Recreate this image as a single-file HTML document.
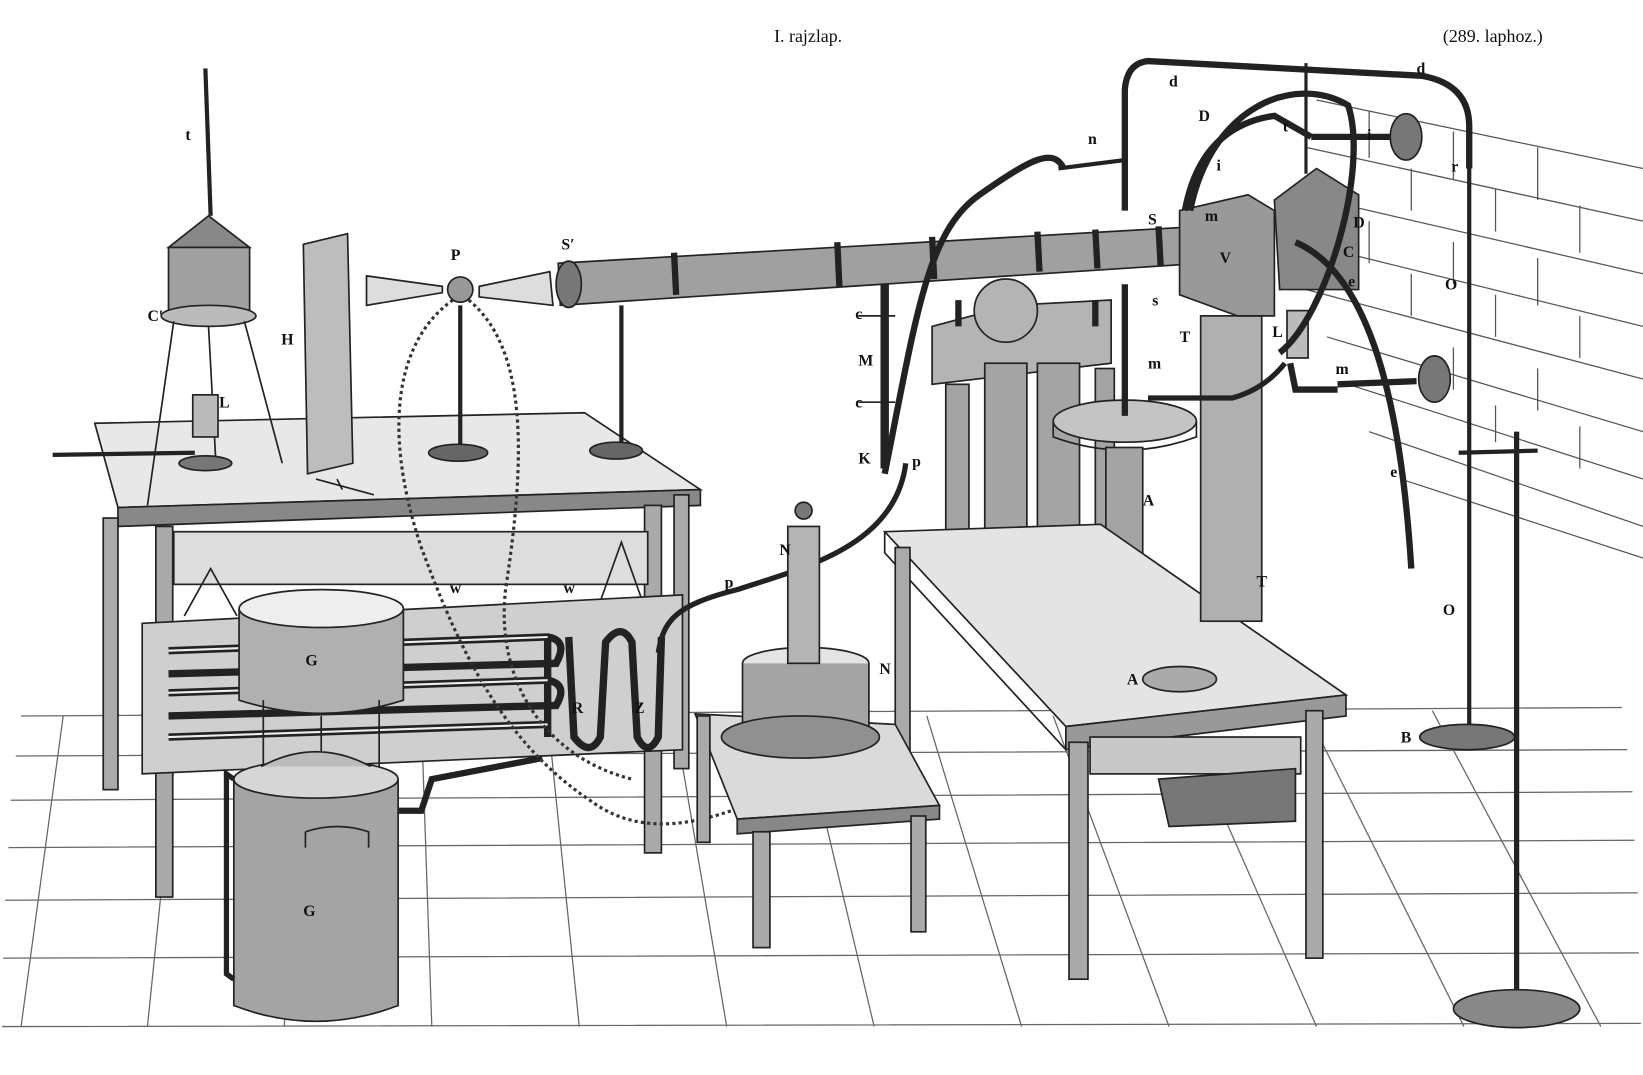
<!DOCTYPE html>
<html><head><meta charset="utf-8"><style>
html,body{margin:0;padding:0;background:#fff;width:1643px;height:1075px;overflow:hidden}
svg{display:block}
text{font-family:"Liberation Serif",serif;fill:#111}
.l{font-size:15px;font-weight:bold}
</style></head><body>
<svg width="1643" height="1075" viewBox="0 0 1560 1021" preserveAspectRatio="none" xmlns="http://www.w3.org/2000/svg">
<g fill="none" stroke="#222" stroke-width="1.6">
<g stroke="#666" stroke-width="1.2">
<path d="M20 680 L1540 672 M15 718 L1545 712 M10 760 L1550 752 M8 805 L1552 798 M5 855 L1555 848 M3 910 L1556 905 M2 975 L1558 972"/>
<path d="M60 680 L20 975 M170 680 L140 975 M280 680 L270 975 M400 680 L410 975 M520 680 L550 975 M640 680 L690 975 M760 680 L830 975 M880 680 L970 975 M1000 680 L1110 975 M1120 680 L1250 975 M1240 675 L1390 975 M1360 675 L1520 975"/>
</g>
<g stroke="#555" stroke-width="1.2">
<path d="M1250 95 L1560 160 M1240 140 L1560 210 M1235 185 L1560 260 M1235 230 L1560 310 M1240 275 L1560 360 M1260 320 L1560 410 M1280 365 L1560 455 M1300 410 L1560 500 M1330 455 L1560 530"/>
<path d="M1300 105 L1300 150 M1380 125 L1380 170 M1460 140 L1460 190 M1340 160 L1340 200 M1420 180 L1420 220 M1500 195 L1500 240 M1300 210 L1300 250 M1380 230 L1380 270 M1460 245 L1460 290 M1340 260 L1340 300 M1420 280 L1420 320 M1500 300 L1500 340 M1380 330 L1380 370 M1460 350 L1460 390 M1420 385 L1420 420 M1500 405 L1500 445"/>
</g>
<path d="M90 402 L555 392 L665 465 L112 482 Z" fill="#e8e8e8"/>
<path d="M112 482 L665 465 L665 480 L112 500 Z" fill="#888"/>
<rect x="98" y="492" width="14" height="258" fill="#aaa"/>
<rect x="148" y="500" width="16" height="352" fill="#aaa"/>
<rect x="612" y="480" width="16" height="330" fill="#aaa"/>
<rect x="640" y="470" width="14" height="260" fill="#aaa"/>
<rect x="165" y="505" width="450" height="50" fill="#ddd"/>
<path d="M175 585 L200 540 L225 585 M565 585 L590 515 L615 585"/>
<path d="M135 592 L648 565 L648 712 L135 735 Z" fill="#cfcfcf"/>
<g stroke="#222" stroke-width="7">
<path d="M160 618 L520 605 Q540 608 528 630 L160 640"/>
<path d="M160 658 L520 646 Q540 650 528 670 L160 680"/>
<path d="M160 700 L520 688"/>
<path d="M520 605 L520 700 M540 605 L545 700 Q560 720 570 700 L575 610 Q590 590 600 610 L605 700 Q615 720 625 700 L628 605"/>
</g>
<g stroke="#eee" stroke-width="2">
<path d="M160 618 L520 605 M160 658 L520 646 M160 700 L520 688"/>
</g>
<path d="M227 578 L227 665 Q305 690 383 665 L383 578" fill="#b0b0b0"/>
<ellipse cx="305" cy="578" rx="78" ry="18" fill="#eee"/>
<path d="M250 665 L250 740 M360 665 L360 740 M305 680 L305 740"/>
<path d="M222 740 L222 955 Q300 985 378 955 L378 740" fill="#a4a4a4"/>
<ellipse cx="300" cy="740" rx="78" ry="18" fill="#d6d6d6"/>
<path d="M248 728 Q300 700 352 728" fill="#bbb"/>
<path d="M290 790 Q320 780 350 790 L350 805 M290 790 L290 805"/>
<path d="M222 740 L215 735 L215 925 L222 930" stroke-width="5"/>
<path d="M378 770 L400 770 L410 740 L515 720" stroke-width="6"/>
<path d="M195 65 L200 205" stroke-width="4"/>
<path d="M160 235 L198 205 L237 235 Z" fill="#888"/>
<rect x="160" y="235" width="77" height="65" fill="#a0a0a0"/>
<ellipse cx="198" cy="300" rx="45" ry="10" fill="#bbb"/>
<path d="M165 305 L140 480 M232 305 L268 440 M198 310 L205 440"/>
<rect x="183" y="375" width="24" height="40" fill="#bbb"/>
<ellipse cx="195" cy="440" rx="25" ry="7" fill="#777"/>
<path d="M50 432 L185 430" stroke-width="4"/>
<path d="M288 232 L330 222 L335 440 L292 450 Z" fill="#bdbdbd"/>
<path d="M300 455 L355 470 M320 455 L325 465" />
<path d="M348 262 L420 272 L420 278 L348 290 Z" fill="#ddd"/>
<path d="M455 272 L522 258 L525 290 L455 282 Z" fill="#ddd"/>
<circle cx="437" cy="275" r="12" fill="#999"/>
<path d="M437 290 L437 425" stroke-width="4"/>
<ellipse cx="435" cy="430" rx="28" ry="8" fill="#666"/>
<path d="M430 285 C380 320 360 400 400 520 C430 600 470 700 560 760 C600 790 650 790 720 760" stroke="#333" stroke-width="3" stroke-dasharray="3 3"/>
<path d="M445 285 C500 330 500 430 480 560 C470 650 520 720 600 740" stroke="#333" stroke-width="3" stroke-dasharray="3 3"/>
<path d="M530 250 L1140 215 L1142 250 L532 290 Z" fill="#a0a0a0"/>
<ellipse cx="540" cy="270" rx="12" ry="22" fill="#777"/>
<g stroke-width="6"><path d="M640 240 L642 280 M795 230 L797 272 M885 225 L887 265 M985 220 L987 258 M1040 218 L1042 255 M1100 215 L1102 252"/></g>
<path d="M590 290 L590 420" stroke-width="4"/>
<ellipse cx="585" cy="428" rx="25" ry="8" fill="#666"/>
<path d="M840 270 L840 445" stroke-width="8"/>
<path d="M815 300 L850 300 M815 382 L850 382"/>
<path d="M885 310 L960 290 L1055 285 L1055 345 L885 365 Z" fill="#b4b4b4"/>
<circle cx="955" cy="295" r="30" fill="#b4b4b4"/>
<g fill="#a4a4a4"><rect x="898" y="365" width="22" height="155"/><rect x="935" y="345" width="40" height="185"/><rect x="985" y="345" width="40" height="185"/><rect x="1040" y="350" width="18" height="170"/></g>
<path d="M880 520 L1060 515 L1060 545 L885 550 Z" fill="#888"/>
<path d="M910 285 L910 310 M1040 285 L1040 310" stroke-width="6"/>
<ellipse cx="1068" cy="400" rx="68" ry="20" fill="#c4c4c4"/>
<path d="M1000 400 L1000 415 Q1068 440 1136 415 L1136 400"/>
<rect x="1050" y="425" width="35" height="150" fill="#a4a4a4"/>
<ellipse cx="1068" cy="595" rx="45" ry="12" fill="#888"/>
<path d="M1068 270 L1068 395" stroke-width="6"/>
<path d="M840 505 L1045 498 L1278 660 L1012 690 Z" fill="#e4e4e4"/>
<path d="M1012 690 L1278 660 L1278 680 L1012 712 Z" fill="#999"/>
<path d="M840 505 L840 525 L1012 712"/>
<rect x="1015" y="705" width="18" height="225" fill="#aaa"/>
<rect x="1240" y="675" width="16" height="235" fill="#aaa"/>
<rect x="850" y="520" width="14" height="260" fill="#aaa"/>
<rect x="1035" y="700" width="200" height="35" fill="#c8c8c8"/>
<ellipse cx="1120" cy="645" rx="35" ry="12" fill="#aaa"/>
<rect x="1140" y="300" width="58" height="290" fill="#b0b0b0"/>
<path d="M1100 740 L1230 730 L1230 780 L1110 785 Z" fill="#777"/>
<path d="M1120 200 L1185 185 L1210 200 L1210 300 L1175 300 L1120 280 Z" fill="#999"/>
<path d="M1210 190 L1250 160 L1290 185 L1290 275 L1215 275 Z" fill="#888"/>
<path d="M1240 60 L1240 165" stroke-width="3"/>
<rect x="1222" y="295" width="20" height="45" fill="#bbb"/>
<path d="M1225 345 L1230 370 L1270 370" stroke-width="6"/>
<path d="M1068 200 L1068 85 Q1070 60 1090 58 L1350 72 Q1395 80 1395 120 L1395 160" stroke-width="6"/>
<path d="M1395 160 L1395 690" stroke-width="4"/>
<ellipse cx="1393" cy="700" rx="45" ry="12" fill="#777"/>
<path d="M1005 160 L1068 152" stroke-width="4"/>
<path d="M1440 410 L1440 950" stroke-width="5"/>
<path d="M1385 430 L1460 428" stroke-width="4"/>
<ellipse cx="1440" cy="958" rx="60" ry="18" fill="#888"/>
<ellipse cx="1335" cy="130" rx="15" ry="22" fill="#777"/>
<ellipse cx="1362" cy="360" rx="15" ry="22" fill="#777"/>
<path d="M1245 130 L1320 130 M1270 365 L1345 362" stroke-width="6"/>
<path d="M840 450 C870 300 880 220 930 185 C980 150 1000 140 1010 160" stroke-width="6"/>
<path d="M1125 200 Q1140 120 1210 110 L1245 130" stroke-width="6"/>
<path d="M1130 200 C1150 100 1230 70 1280 100 C1300 160 1260 300 1215 335" stroke-width="6"/>
<path d="M1230 230 C1300 260 1330 380 1340 540" stroke-width="6"/>
<path d="M1090 378 L1170 378 Q1200 370 1220 345" stroke-width="5"/>
<path d="M860 440 C850 520 760 540 700 560 C640 575 630 590 625 620" stroke-width="5"/>
<path d="M660 678 L850 688 L892 765 L700 778 Z" fill="#dadada"/>
<path d="M700 778 L892 765 L892 778 L700 792 Z" fill="#888"/>
<rect x="715" y="790" width="16" height="110" fill="#aaa"/>
<rect x="865" y="775" width="14" height="110" fill="#aaa"/>
<rect x="662" y="680" width="12" height="120" fill="#aaa"/>
<ellipse cx="765" cy="630" rx="60" ry="15" fill="#e4e4e4"/>
<path d="M705 630 L705 690 Q765 715 825 690 L825 630" fill="#a4a4a4"/>
<rect x="748" y="500" width="30" height="130" fill="#b4b4b4"/>
<circle cx="763" cy="485" r="8" fill="#777"/>
<ellipse cx="760" cy="700" rx="75" ry="20" fill="#909090"/>
</g>
<text x="735" y="40" font-size="17">I. rajzlap.</text>
<text x="1370" y="40" font-size="17">(289. laphoz.)</text>
<g class="l">
<text x="176" y="133">t</text><text x="140" y="305">C′</text><text x="208" y="387">L</text><text x="267" y="327">H</text>
<text x="428" y="247">P</text><text x="533" y="237">S′</text><text x="1110" y="82">d</text><text x="1345" y="70">d</text>
<text x="1138" y="115">D</text><text x="1218" y="125">t</text><text x="1298" y="133">i</text><text x="1155" y="162">i</text>
<text x="1033" y="137">n</text><text x="1090" y="213">S</text><text x="1094" y="290">s</text><text x="1090" y="350">m</text>
<text x="1268" y="355">m</text><text x="1285" y="216">D</text><text x="1378" y="163">r</text><text x="1275" y="244">C</text>
<text x="1280" y="272">e</text><text x="1208" y="320">L</text><text x="1120" y="325">T</text><text x="1372" y="275">O</text>
<text x="1370" y="584">O</text><text x="1193" y="557">T</text><text x="1330" y="705">B</text><text x="1085" y="480">A</text>
<text x="1070" y="650">A</text><text x="1320" y="453">e</text><text x="812" y="303">c</text><text x="815" y="347">M</text>
<text x="812" y="387">c</text><text x="815" y="440">K</text><text x="866" y="443">p</text><text x="688" y="558">p</text>
<text x="740" y="527">N</text><text x="835" y="640">N</text><text x="427" y="563">w</text><text x="535" y="563">w</text>
<text x="543" y="677">R</text><text x="602" y="677">Z</text><text x="290" y="632">G</text><text x="288" y="870">G</text>
<text x="1144" y="210">m</text><text x="1158" y="250">V</text>
</g>
</svg>
</body></html>
